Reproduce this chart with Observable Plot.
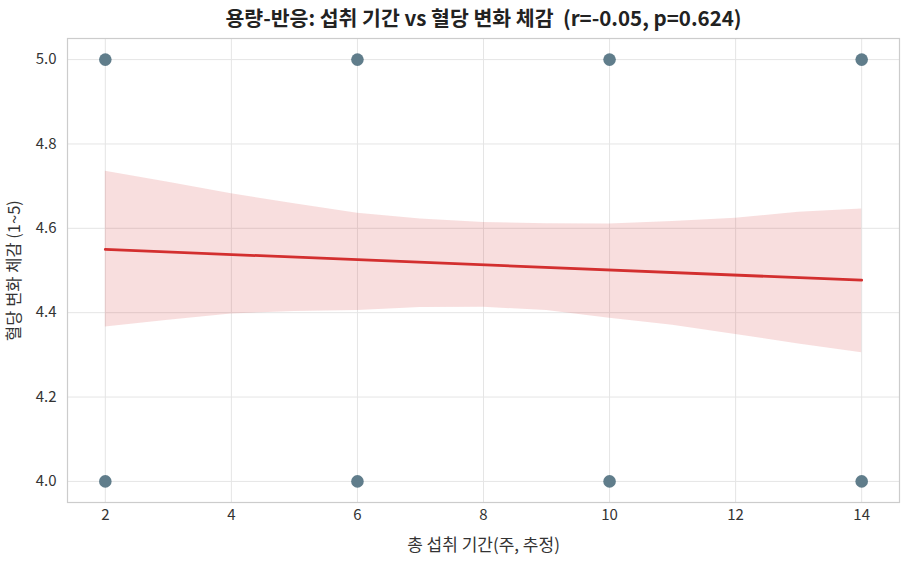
<!DOCTYPE html>
<html>
<head>
<meta charset="utf-8">
<script src="https://cdn.jsdelivr.net/npm/d3@7"></script>
<script src="https://cdn.jsdelivr.net/npm/@observablehq/plot@0.6"></script>
<style>
  html, body { margin: 0; padding: 0; background: #fff; }
  #chart svg { display: block; }
</style>
</head>
<body>
<div id="chart"></div>
<script>
// Data
const titleText = "용량-반응: 섭취 기간 vs 혈당 변화 체감  (r=-0.05, p=0.624)";
const xLabel = "총 섭취 기간(주, 추정)";
const yLabel = "혈당 변화 체감 (1~5)";

const pointX = [2, 2, 6, 6, 10, 10, 14, 14];
const pointY = [4, 5, 4, 5, 4, 5, 4, 5];

const bandX  = [2, 3, 4, 5, 6, 7, 8, 9, 10, 11, 12, 13, 14];
const bandLo = [4.366, 4.382, 4.397, 4.403, 4.405, 4.412, 4.413, 4.405, 4.387, 4.370, 4.348, 4.326, 4.305];
const bandHi = [4.735, 4.709, 4.682, 4.658, 4.636, 4.622, 4.614, 4.611, 4.610, 4.616, 4.624, 4.638, 4.646];

const fitX = [2, 14];
const fitY = [4.550, 4.477];

const xTicks = [2, 4, 6, 8, 10, 12, 14];
const yTicks = [4.0, 4.2, 4.4, 4.6, 4.8, 5.0];

const points = pointX.map((x, i) => ({x, y: pointY[i]}));
const band = bandX.map((x, i) => ({x, lo: bandLo[i], hi: bandHi[i]}));
const fit = fitX.map((x, i) => ({x, y: fitY[i]}));

const font = "'Noto Sans CJK KR', 'Noto Sans', sans-serif";

const chart = Plot.plot({
  width: 909,
  height: 565,
  marginTop: 38,
  marginBottom: 63,
  marginLeft: 67,
  marginRight: 10,
  style: {fontFamily: font, fontSize: "15px", color: "#333", background: "#fff"},
  x: {domain: [1.4, 14.6]},
  y: {domain: [3.95, 5.05]},
  marks: [
    Plot.gridX(xTicks, {stroke: "#e5e5e5", strokeOpacity: 1, strokeWidth: 1}),
    Plot.gridY(yTicks, {stroke: "#e5e5e5", strokeOpacity: 1, strokeWidth: 1}),
    Plot.dot(points, {x: "x", y: "y", r: 6.3, fill: "#607D8B", stroke: "none"}),
    Plot.areaY(band, {x: "x", y1: "lo", y2: "hi", fill: "#d32f2f", fillOpacity: 0.16}),
    Plot.line(fit, {x: "x", y: "y", stroke: "#d32f2f", strokeWidth: 2.8}),
    Plot.frame({stroke: "#cccccc", strokeWidth: 1.2}),
    Plot.axisX(xTicks, {tickSize: 0, tickPadding: 7, label: null, fontSize: 15, fill: "#333"}),
    Plot.axisY(yTicks, {tickSize: 0, tickPadding: 11, label: null, tickFormat: d3.format(".1f"), fontSize: 15, fill: "#333"}),
    Plot.text([titleText], {text: d => d, frameAnchor: "top", textAnchor: "middle", lineAnchor: "middle", dy: -19, fontSize: 20.5, fontWeight: "bold", fill: "#222"}),
    Plot.text([xLabel], {text: d => d, frameAnchor: "bottom", textAnchor: "middle", lineAnchor: "middle", dy: 43, fontSize: 17, fill: "#333"}),
    Plot.text([yLabel], {text: d => d, frameAnchor: "left", textAnchor: "middle", lineAnchor: "middle", dx: -53, rotate: -90, fontSize: 16.5, fill: "#333"})
  ]
});
document.getElementById("chart").append(chart);
</script>
</body>
</html>
